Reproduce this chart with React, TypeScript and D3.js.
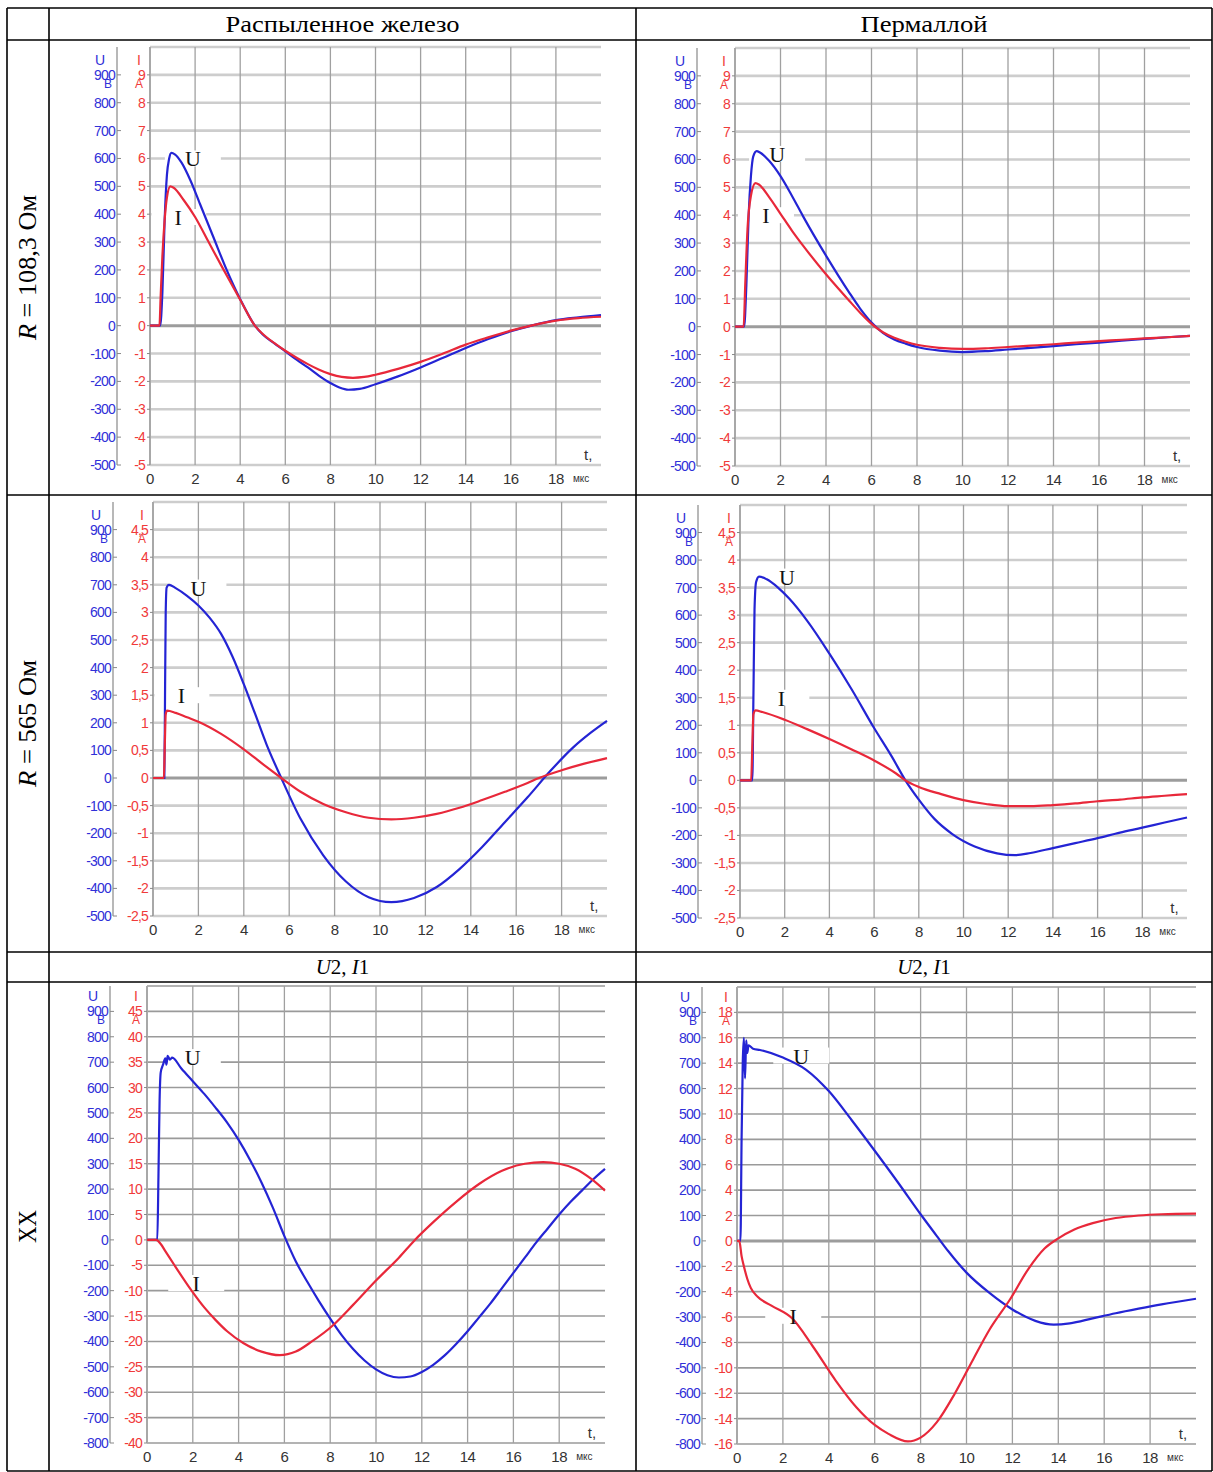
import React from 'react'
import * as d3 from 'd3'

const WIDTH = 1213
const HEIGHT = 1472

// t in мкс, U in В, I in А
const feR108U = [[0, 0], [0.45, 0], [0.55, 120], [0.65, 380], [0.75, 540], [0.85, 600], [0.95, 620], [1.1, 615], [1.4, 585], [1.8, 520], [2.2, 440], [2.8, 320], [3.4, 200], [4, 95], [4.65, 0], [5, -32], [5.5, -63], [6, -92], [6.5, -122], [7, -150], [7.5, -180], [8, -206], [8.4, -222], [8.8, -230], [9.3, -227], [10, -210], [11, -182], [12, -150], [13, -115], [14, -80], [15, -48], [16, -20], [17, 2], [18, 20], [19, 30], [20, 38]]
const feR108I = [[0, 0], [0.42, 0], [0.47, 1], [0.55, 2.5], [0.65, 3.8], [0.75, 4.6], [0.9, 5], [1.05, 4.95], [1.5, 4.5], [2, 3.9], [2.6, 3], [3.2, 2.1], [4, 0.93], [4.65, 0], [5, -0.3], [5.5, -0.62], [6, -0.9], [6.5, -1.15], [7, -1.38], [7.5, -1.58], [8, -1.74], [8.5, -1.84], [9, -1.87], [9.5, -1.84], [10, -1.76], [11, -1.55], [12, -1.3], [13, -1], [14, -0.68], [15, -0.42], [16, -0.18], [17, 0.02], [18, 0.18], [19, 0.27], [20, 0.32]]

const pyR108U = [[0, 0], [0.4, 0], [0.5, 150], [0.6, 400], [0.7, 540], [0.8, 610], [0.95, 630], [1.1, 625], [1.5, 595], [2, 540], [2.5, 470], [3, 395], [4, 255], [5, 125], [5.5, 65], [6, 15], [6.5, -22], [7, -46], [7.5, -61], [8, -73], [9, -86], [10, -91], [11, -88], [12, -82], [13, -76], [14, -70], [15, -63], [16, -57], [17, -50], [18, -44], [19, -38], [20, -33]]
const pyR108I = [[0, 0], [0.38, 0], [0.45, 1.5], [0.55, 3.5], [0.7, 4.7], [0.9, 5.15], [1.05, 5.1], [1.5, 4.65], [2, 4.05], [2.5, 3.45], [3, 2.9], [4, 1.88], [5, 0.95], [5.5, 0.5], [6, 0.1], [6.5, -0.2], [7, -0.4], [7.5, -0.54], [8, -0.65], [9, -0.76], [10, -0.8], [11, -0.78], [12, -0.73], [13, -0.68], [14, -0.63], [15, -0.57], [16, -0.52], [17, -0.47], [18, -0.42], [19, -0.38], [20, -0.33]]

const feR565U = [[0, 0], [0.5, 0], [0.53, 300], [0.56, 600], [0.6, 690], [0.7, 700], [1, 688], [1.5, 660], [2, 625], [2.5, 580], [3, 522], [3.5, 440], [4, 340], [4.5, 232], [5, 122], [5.65, 0], [6.5, -148], [7.5, -280], [8.5, -375], [9.5, -432], [10.5, -450], [11.5, -435], [12.5, -395], [13.5, -330], [14.5, -250], [15.5, -160], [16.5, -70], [17.5, 25], [18.5, 110], [19.3, 165], [20, 207]]
const feR565I = [[0, 0], [0.48, 0], [0.52, 0.6], [0.56, 1.15], [0.62, 1.22], [1, 1.18], [1.5, 1.1], [2, 1.02], [3, 0.8], [4, 0.52], [5, 0.2], [5.65, 0], [6.5, -0.25], [7.5, -0.47], [8.5, -0.62], [9.5, -0.72], [10.5, -0.75], [11.5, -0.72], [12.5, -0.65], [13.5, -0.54], [14.5, -0.4], [15.5, -0.25], [16.5, -0.09], [17, 0], [18, 0.14], [19, 0.26], [20, 0.36]]

const pyR565U = [[0, 0], [0.55, 0], [0.6, 300], [0.65, 620], [0.72, 720], [0.85, 740], [1.2, 730], [1.7, 700], [2.2, 660], [3, 580], [4, 460], [5, 330], [6, 190], [6.8, 85], [7.4, 0], [8, -70], [8.7, -140], [9.5, -195], [10.5, -240], [11.5, -265], [12.3, -272], [13, -264], [14, -246], [15, -228], [16, -210], [17, -190], [18, -172], [19, -153], [20, -135]]
const pyR565I = [[0, 0], [0.5, 0], [0.55, 0.6], [0.6, 1.2], [0.7, 1.27], [1, 1.24], [2, 1.1], [3, 0.93], [4, 0.75], [5, 0.56], [6, 0.36], [7, 0.12], [7.4, 0], [8, -0.12], [9, -0.25], [10, -0.36], [11, -0.43], [12, -0.47], [13, -0.47], [14, -0.45], [15, -0.42], [16, -0.38], [17, -0.35], [18, -0.31], [19, -0.28], [20, -0.25]]

const feXXU = [[0, 0], [0.45, 0], [0.5, 250], [0.55, 550], [0.6, 660], [0.7, 690], [0.8, 715], [0.85, 690], [0.9, 725], [1, 710], [1.1, 718], [1.5, 675], [2, 625], [2.5, 575], [3, 520], [3.5, 462], [4, 394], [4.5, 315], [5, 226], [5.5, 126], [6, 15], [6.5, -85], [7, -165], [7.5, -240], [8, -310], [8.5, -375], [9, -430], [9.5, -475], [10, -510], [10.5, -533], [11, -542], [11.5, -538], [12, -520], [12.5, -492], [13, -455], [13.5, -410], [14, -360], [14.5, -305], [15, -250], [15.5, -190], [16, -130], [16.5, -70], [17, -10], [17.5, 45], [18, 100], [18.5, 150], [19, 195], [19.5, 240], [20, 280]]
const feXXI = [[0, 0], [0.4, 0], [0.6, -0.8], [0.8, -2.2], [1.2, -5], [1.9, -9.7], [2.5, -13.3], [3, -15.8], [3.5, -18], [4.2, -20.3], [5, -22], [5.8, -22.7], [6.5, -22], [7.2, -20], [8.1, -16.9], [9, -12.8], [10, -8], [11, -3.5], [11.7, 0], [12.5, 3.5], [13.5, 7.5], [14.5, 11], [15.5, 13.6], [16.5, 15], [17.3, 15.3], [18, 15], [18.7, 14], [19.4, 12], [20, 9.7]]

const pyXXU = [[0, 0], [0.15, 0], [0.2, 400], [0.25, 700], [0.3, 800], [0.35, 640], [0.4, 790], [0.45, 740], [0.5, 770], [0.7, 757], [1, 752], [2, 722], [3, 675], [4, 590], [5, 475], [6, 355], [7, 232], [8, 105], [8.7, 20], [9.2, -40], [10, -125], [11, -205], [12, -270], [13, -315], [13.8, -330], [14.5, -325], [15.5, -305], [16.5, -285], [17.5, -267], [18.5, -250], [20, -228]]
const pyXXI = [[0, 0], [0.1, 0], [0.2, -1.2], [0.3, -2], [0.45, -3], [0.6, -3.7], [0.9, -4.4], [1.5, -5.1], [2.4, -6.1], [3.3, -8.3], [4.3, -11], [5.2, -13.1], [6, -14.5], [6.6, -15.2], [7.45, -15.8], [8, -15.5], [8.7, -14.3], [9.5, -12], [10.3, -9.3], [11, -7], [11.9, -4.6], [12.7, -2.2], [13.4, -0.6], [14, 0.2], [14.7, 0.9], [15.5, 1.4], [16.5, 1.8], [17.5, 2], [18.5, 2.1], [20, 2.15]]

// axis tick labels
const tTicks = [0, 2, 4, 6, 8, 10, 12, 14, 16, 18]
const uTicksR = [900, 800, 700, 600, 500, 400, 300, 200, 100, 0, -100, -200, -300, -400, -500]
const uTicksXX = [900, 800, 700, 600, 500, 400, 300, 200, 100, 0, -100, -200, -300, -400, -500, -600, -700, -800]
const iTicksR108 = [9, 8, 7, 6, 5, 4, 3, 2, 1, 0, -1, -2, -3, -4, -5]
const iTicksR565 = [4.5, 4, 3.5, 3, 2.5, 2, 1.5, 1, 0.5, 0, -0.5, -1, -1.5, -2, -2.5]
const iTicksFeXX = [45, 40, 35, 30, 25, 20, 15, 10, 5, 0, -5, -10, -15, -20, -25, -30, -35, -40]
const iTicksPyXX = [18, 16, 14, 12, 10, 8, 6, 4, 2, 0, -2, -4, -6, -8, -10, -12, -14, -16]

// table
const colX = [7, 49, 636, 1212]
const rowY = [8, 40, 495, 952, 982, 1471]
const headers = ['Распыленное железо', 'Пермаллой']
const headerLen = [234, 127]

const BLUE = '#2424d4'
const RED = '#e8283a'
const BLUE_TXT = '#3030d8'
const RED_TXT = '#f03a3a'
const SANS = 'Liberation Sans, Arial, sans-serif'
const SERIF = 'Liberation Serif, Times New Roman, serif'

const panels = [
  { x0: 150, x1: 601, yTop: 47, yBot: 465, uAxis: 117, uDomain: [-500, 1000], iDomain: [-5, 10], uTicks: uTicksR, iTicks: iTicksR108, u: feR108U, i: feR108I, uLab: [1.9, 600], iLab: [1.25, 3.9], dark: false },
  { x0: 735, x1: 1190, yTop: 48, yBot: 466, uAxis: 697, uDomain: [-500, 1000], iDomain: [-5, 10], uTicks: uTicksR, iTicks: iTicksR108, u: pyR108U, i: pyR108I, uLab: [1.85, 620], iLab: [1.36, 4.0], dark: false },
  { x0: 153, x1: 607, yTop: 502, yBot: 916, uAxis: 113, uDomain: [-500, 1000], iDomain: [-2.5, 5], uTicks: uTicksR, iTicks: iTicksR565, u: feR565U, i: feR565I, uLab: [2, 690], iLab: [1.25, 1.5], dark: false },
  { x0: 740, x1: 1187, yTop: 505, yBot: 918, uAxis: 698, uDomain: [-500, 1000], iDomain: [-2.5, 5], uTicks: uTicksR, iTicks: iTicksR565, u: pyR565U, i: pyR565I, uLab: [2.1, 740], iLab: [1.85, 1.5], dark: false },
  { x0: 147, x1: 605, yTop: 986, yBot: 1443, uAxis: 110, uDomain: [-800, 1000], iDomain: [-40, 50], uTicks: uTicksXX, iTicks: iTicksFeXX, u: feXXU, i: feXXI, uLab: [2, 720], iLab: [2.15, -8.5], dark: true },
  { x0: 737, x1: 1196, yTop: 987, yBot: 1444, uAxis: 702, uDomain: [-800, 1000], iDomain: [-16, 20], uTicks: uTicksXX, iTicks: iTicksPyXX, u: pyXXU, i: pyXXI, uLab: [2.8, 730], iLab: [2.45, -5.9], dark: true },
]

const fmt = (v) => String(v).replace('.', ',')

const Panel = ({ p }) => {
  const x = d3.scaleLinear().domain([0, 20]).range([p.x0, p.x1])
  const yU = d3.scaleLinear().domain(p.uDomain).range([p.yBot, p.yTop])
  const yI = d3.scaleLinear().domain(p.iDomain).range([p.yBot, p.yTop])
  const uLine = d3.line().x(d => x(d[0])).y(d => yU(d[1])).curve(d3.curveMonotoneX)
  const iLine = d3.line().x(d => x(d[0])).y(d => yI(d[1])).curve(d3.curveMonotoneX)
  const levels = d3.range(p.uDomain[0], p.uDomain[1] + 1, 100)
  const hColor = p.dark ? '#9a9a9a' : '#cdcdcd'
  const hWidth = p.dark ? 1.6 : 2.6

  const labelBox = (lx, ly) => (
    <rect x={Math.max(p.x0 + 1.5, lx - 28)} y={ly - 8} width={lx + 28 - Math.max(p.x0 + 1.5, lx - 28)} height={16} fill="white" />
  )

  const uLx = x(p.uLab[0]), uLy = yU(p.uLab[1])
  const iLx = x(p.iLab[0]), iLy = yI(p.iLab[1])

  return (
    <g>
      {/* horizontal grid */}
      {levels.map(v => (
        <line key={'h' + v} x1={p.x0} x2={p.x1} y1={yU(v)} y2={yU(v)}
          stroke={v === 0 ? '#9c9c9c' : hColor} strokeWidth={v === 0 ? 3 : hWidth} />
      ))}
      {/* vertical grid */}
      {tTicks.map(t => (
        <line key={'v' + t} x1={x(t)} x2={x(t)} y1={p.yTop} y2={p.yBot}
          stroke={t === 0 ? '#a8a8a8' : '#a0a0a0'} strokeWidth={t === 0 ? 2 : 1.3} />
      ))}
      {/* U axis */}
      <line x1={p.uAxis} x2={p.uAxis} y1={p.yTop} y2={p.yBot} stroke="#a0a0a0" strokeWidth={1.5} />
      {p.uTicks.map(v => (
        <g key={'u' + v}>
          <line x1={p.uAxis} x2={p.uAxis + 4} y1={yU(v)} y2={yU(v)} stroke="#888" strokeWidth={1} />
          <text x={p.uAxis - 2} y={yU(v) + 5} textAnchor="end" fontFamily={SANS} fontSize={14}
            fill={BLUE_TXT} letterSpacing={-0.8}>{v}</text>
        </g>
      ))}
      <text x={p.uAxis - 17} y={yU(900) - 10} textAnchor="middle" fontFamily={SANS} fontSize={14} fill={BLUE_TXT}>U</text>
      <text x={p.uAxis - 9} y={yU(900) + 13} textAnchor="middle" fontFamily={SANS} fontSize={12} fill={BLUE_TXT}>В</text>
      {/* I axis */}
      {p.iTicks.map(v => (
        <g key={'i' + v}>
          <line x1={p.x0 - 3} x2={p.x0} y1={yI(v)} y2={yI(v)} stroke="#888" strokeWidth={1} />
          <text x={p.x0 - 5} y={yI(v) + 5} textAnchor="end" fontFamily={SANS} fontSize={14}
            fill={RED_TXT} letterSpacing={-0.8}>{fmt(v)}</text>
        </g>
      ))}
      <text x={p.x0 - 11} y={yU(900) - 10} textAnchor="middle" fontFamily={SANS} fontSize={14} fill={RED_TXT}>I</text>
      <text x={p.x0 - 11} y={yU(900) + 13} textAnchor="middle" fontFamily={SANS} fontSize={12} fill={RED_TXT}>А</text>
      {/* t axis */}
      {tTicks.map(t => (
        <text key={'t' + t} x={x(t)} y={p.yBot + 19} textAnchor="middle" fontFamily={SANS} fontSize={15}
          fill="#333" letterSpacing={-0.5}>{t}</text>
      ))}
      <text x={x(18) + 17} y={p.yBot + 17} fontFamily={SANS} fontSize={10} fill="#333">мкс</text>
      <text x={x(19.25)} y={p.yBot - 5} fontFamily={SANS} fontSize={15} fill="#333">t,</text>
      {/* label boxes */}
      {labelBox(uLx, uLy)}
      {labelBox(iLx, iLy)}
      {/* curves */}
      <path d={uLine(p.u)} fill="none" stroke={BLUE} strokeWidth={2.2} />
      <path d={iLine(p.i)} fill="none" stroke={RED} strokeWidth={2.2} />
      <text x={uLx} y={uLy + 8} textAnchor="middle" fontFamily={SERIF} fontSize={22} fill="#111">U</text>
      <text x={iLx} y={iLy + 8} textAnchor="middle" fontFamily={SERIF} fontSize={22} fill="#111">I</text>
    </g>
  )
}

const App = () => {
  const rowLabel = (text, yc, italicR, len) => (
    <text transform={`translate(${(colX[0] + colX[1]) / 2 + 8}, ${yc}) rotate(-90)`} textAnchor="middle"
      fontFamily={SERIF} fontSize={25} fill="#000" textLength={len} lengthAdjust="spacingAndGlyphs">
      {italicR ? <><tspan fontStyle="italic">R</tspan>{text}</> : text}
    </text>
  )
  return (
    <svg width={WIDTH} height={HEIGHT} viewBox={`0 0 ${WIDTH} ${HEIGHT}`}
      style={{ position: 'absolute', left: 0, top: 0, background: 'white' }}>
      <rect x={0} y={0} width={WIDTH} height={HEIGHT} fill="white" />
      {panels.map((p, k) => <Panel key={k} p={p} />)}

      {/* table lines */}
      {rowY.map((y, k) => (
        <line key={'r' + k} x1={colX[0]} x2={colX[3]} y1={y} y2={y} stroke="#000" strokeWidth={1.6} />
      ))}
      {colX.map((x, k) => (
        <line key={'c' + k} x1={x} x2={x} y1={rowY[0]} y2={rowY[5]} stroke="#000" strokeWidth={1.6} />
      ))}

      {headers.map((h, k) => (
        <text key={h} x={(colX[k + 1] + colX[k + 2]) / 2} y={rowY[1] - 8} textAnchor="middle"
          fontFamily={SERIF} fontSize={24} fill="#000" textLength={headerLen[k]} lengthAdjust="spacingAndGlyphs">{h}</text>
      ))}
      {headers.map((h, k) => (
        <text key={'s' + k} x={(colX[k + 1] + colX[k + 2]) / 2} y={rowY[4] - 8} textAnchor="middle"
          fontFamily={SERIF} fontSize={21} fill="#000">
          <tspan fontStyle="italic">U</tspan>2, <tspan fontStyle="italic">I</tspan>1
        </text>
      ))}
      {rowLabel(' = 108,3 Ом', (rowY[1] + rowY[2]) / 2, true, 145)}
      {rowLabel(' = 565 Ом', (rowY[2] + rowY[3]) / 2, true, 127)}
      {rowLabel('ХХ', (rowY[4] + rowY[5]) / 2, false, 33)}
    </svg>
  )
}

export default App
